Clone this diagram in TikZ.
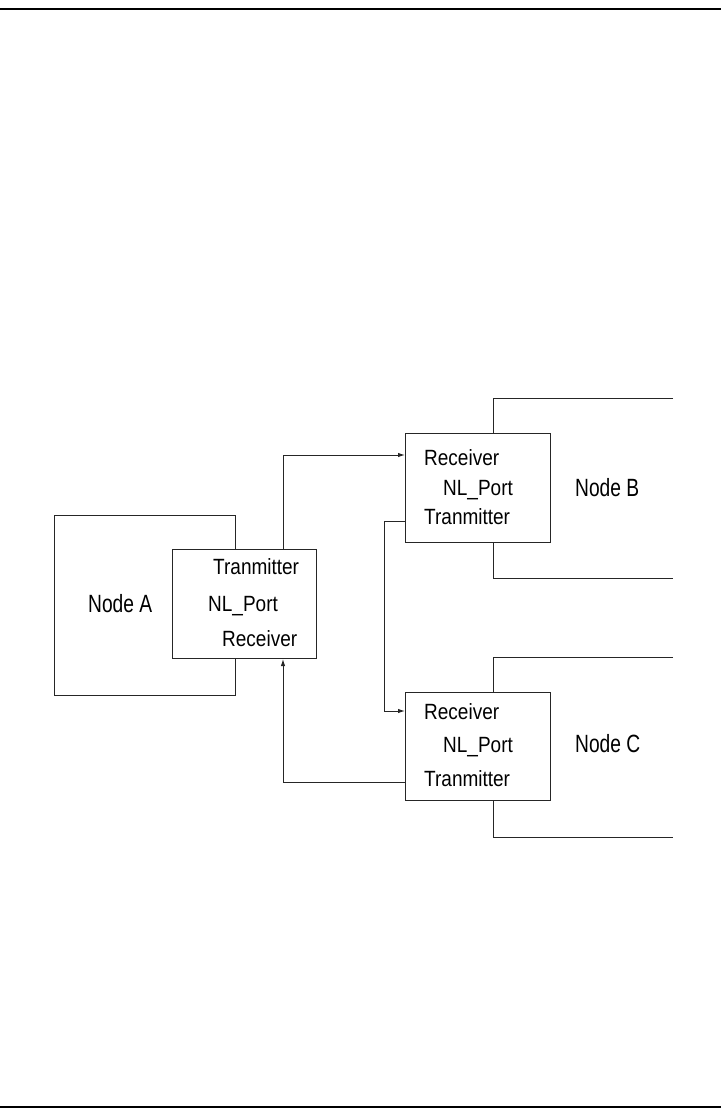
\documentclass[tikz,border=0pt]{standalone}
\usepackage{fontspec}
\setmainfont{Liberation Sans}
\usetikzlibrary{arrows.meta}
\newcommand{\porttxt}[1]{\scalebox{1}[1.16]{#1}}
\newcommand{\nodetxt}[1]{\scalebox{1}[1.3]{#1}}
\begin{document}
\begin{tikzpicture}[x=1pt,y=-1pt,
  ln/.style={draw=black!85,line width=1pt},
  rule/.style={draw=black,line width=2.6pt},
  conn/.style={ln,-{Latex[length=7pt,width=4.5pt]}},
  port/.style={ln,fill=white},
  lbl/.style={anchor=base west,inner sep=0pt,font=\fontsize{19}{22}\selectfont},
  big/.style={anchor=base west,inner sep=0pt,font=\fontsize{19.2}{22}\selectfont}]
\useasboundingbox (0,0) rectangle (721,1115);
% page rules
\draw[rule] (0,9) -- (721,9);
\draw[rule] (0,1107) -- (721,1107);
% big node boxes
\draw[ln] (54,515) rectangle (235,695);
\draw[ln] (673,398) -- (493,398) -- (493,578) -- (673,578);
\draw[ln] (673,657) -- (493,657) -- (493,837) -- (673,837);
% port boxes
\node[port,minimum width=144pt,minimum height=109pt,anchor=north west,inner sep=0pt] (pa) at (172,549) {};
\node[port,minimum width=145pt,minimum height=109pt,anchor=north west,inner sep=0pt] (pb) at (405,433) {};
\node[port,minimum width=145pt,minimum height=108pt,anchor=north west,inner sep=0pt] (pc) at (405,692) {};
% labels
\node[big] (na) at (88,612) {\nodetxt{Node A}};
\node[big] (nb) at (575,496) {\nodetxt{Node B}};
\node[big] (nc) at (575,752) {\nodetxt{Node C}};
\node[lbl] (ta) at (213,574) {\porttxt{Tranmitter}};
\node[lbl] (pla) at (208,611) {\porttxt{NL\_Port}};
\node[lbl] (ra) at (222,646) {\porttxt{Receiver}};
\node[lbl] (rb) at (424,465) {\porttxt{Receiver}};
\node[lbl] (plb) at (443,495) {\porttxt{NL\_Port}};
\node[lbl] (tb) at (424,524) {\porttxt{Tranmitter}};
\node[lbl] (rc) at (424,719) {\porttxt{Receiver}};
\node[lbl] (plc) at (443,752) {\porttxt{NL\_Port}};
\node[lbl] (tc) at (424,786) {\porttxt{Tranmitter}};
% connectors
\coordinate (a1) at (283,455);
\coordinate (b1) at (384,521);
\coordinate (c1) at (283,782);
\draw[conn] (pa.north -| a1) -- (a1) -- (a1 -| pb.west);
\draw[conn] (b1 -| pb.west) -- (b1) |- (pc.west |- 0,711);
\draw[conn] (c1 -| pc.west) -- (c1) -- (c1 |- pa.south);
\end{tikzpicture}
\end{document}
